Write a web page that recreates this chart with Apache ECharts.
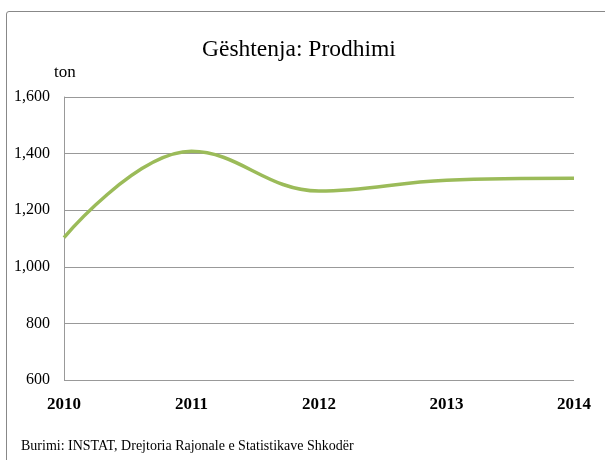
<!DOCTYPE html>
<html>
<head>
<meta charset="utf-8">
<script src="https://cdn.jsdelivr.net/npm/echarts@6/dist/echarts.min.js"></script>
<style>
  html, body { margin: 0; padding: 0; background: #fff; }
  #frame { position: absolute; left: 6px; top: 11px; width: 640px; height: 500px; border: 1px solid #888; border-radius: 3px; }
  #echart { position: absolute; left: 0; top: 0; width: 605px; height: 460px; }
</style>
</head>
<body>
<div id="frame"></div>
<div id="echart"></div>
<script>
const years = ['2010', '2011', '2012', '2013', '2014'];
const production = [1103, 1408, 1268, 1306, 1313];
const yTicks = { min: 600, max: 1600, interval: 200 };

const serif = '"Liberation Serif", "DejaVu Serif", serif';
const myChart = echarts.init(document.getElementById('echart'));

myChart.setOption({
  animation: false,
  title: {
    text: 'Gështenja: Prodhimi',
    left: 197,
    top: 33,
    textStyle: { fontFamily: serif, fontSize: 23.5, fontWeight: 'normal', color: '#000' }
  },
  graphic: [
    {
      type: 'text',
      left: 54,
      top: 64,
      style: { text: 'ton', font: '17px ' + serif, fill: '#000' }
    },
    {
      type: 'text',
      left: 21,
      top: 439,
      style: { text: 'Burimi: INSTAT, Drejtoria Rajonale e Statistikave Shkodër', font: '14px ' + serif, fill: '#000' }
    }
  ],
  grid: { left: 64, right: 31, top: 97, bottom: 80 },
  xAxis: {
    type: 'category',
    data: years,
    boundaryGap: false,
    axisLine: { show: false },
    axisTick: { show: false },
    axisLabel: { fontFamily: serif, fontSize: 17, fontWeight: 'bold', color: '#000', margin: 16 }
  },
  yAxis: {
    type: 'value',
    min: yTicks.min,
    max: yTicks.max,
    interval: yTicks.interval,
    axisLine: { show: true, lineStyle: { color: '#999', width: 1 } },
    axisTick: { show: false },
    axisLabel: {
      fontFamily: serif, fontSize: 16, color: '#000', margin: 14,
      formatter: v => v.toLocaleString('en-US')
    },
    splitLine: { lineStyle: { color: '#999', width: 1 } }
  },
  series: [
    {
      name: 'Prodhimi',
      type: 'line',
      data: production,
      smooth: 0.4,
      symbol: 'none',
      lineStyle: { color: '#9BBB59', width: 3.5 }
    }
  ]
});
</script>
</body>
</html>
